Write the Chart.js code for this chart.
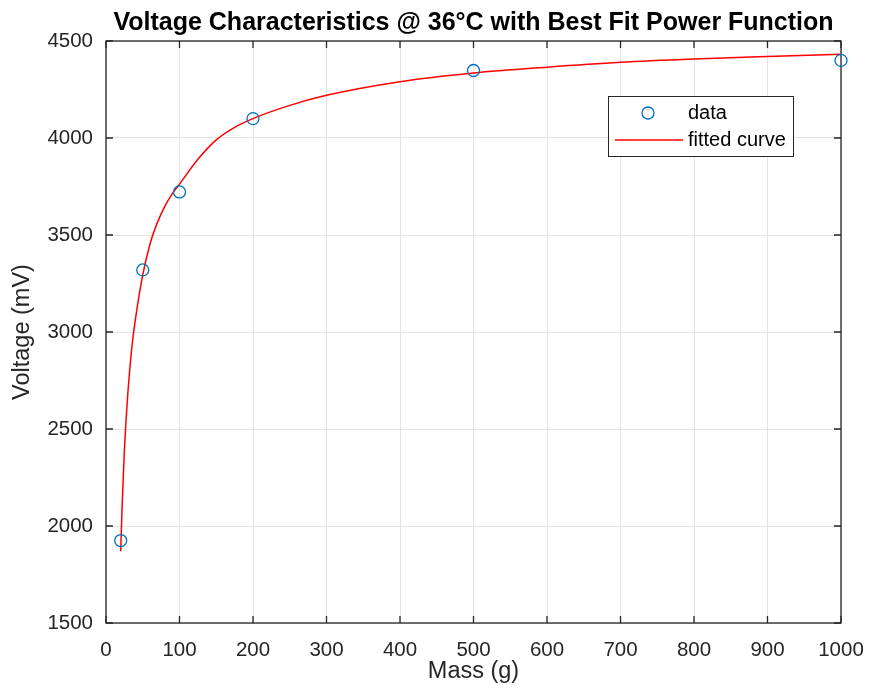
<!DOCTYPE html>
<html>
<head>
<meta charset="utf-8">
<title>Voltage Characteristics</title>
<script src="https://cdn.jsdelivr.net/npm/chart.js@4.4.1/dist/chart.umd.min.js"></script>
<style>
  html, body { margin: 0; padding: 0; background: #fff; }
  #wrap { width: 869px; height: 696px; }
</style>
</head>
<body>
<div id="wrap"><canvas id="voltageChart" width="869" height="696"></canvas></div>
<script>
// measured points
const massData = [20, 50, 100, 200, 500, 1000];
const voltageData = [1925, 3320, 3722, 4100, 4348, 4400];

// fitted power curve
const fitMass = [20, 22, 25, 30, 35, 40, 50, 60, 70, 80, 90, 100, 125, 150, 175, 200, 250, 300, 400, 500, 600, 700, 800, 900, 1000];
const fitVoltage = [1870, 2110, 2390, 2700, 2915, 3065, 3295, 3455, 3565, 3648, 3712, 3762, 3890, 3990, 4055, 4100, 4168, 4220, 4290, 4335, 4365, 4390, 4407, 4420, 4432];

const xTicks = [0, 100, 200, 300, 400, 500, 600, 700, 800, 900, 1000];
const yTicks = [1500, 2000, 2500, 3000, 3500, 4000, 4500];

const FONT = '"Liberation Sans", Arial, Helvetica, sans-serif';
const AXIS_COLOR = '#262626';

// MATLAB style box, inward ticks and legend inside the axes
const matlabAxes = {
  id: 'matlabAxes',
  beforeDatasetsDraw(chart) {
    const { ctx, chartArea: a, scales: { x, y } } = chart;
    ctx.save();
    ctx.strokeStyle = AXIS_COLOR;
    ctx.lineWidth = 1.3;
    ctx.beginPath();
    x.ticks.forEach(t => {
      const px = x.getPixelForValue(t.value);
      ctx.moveTo(px, a.bottom); ctx.lineTo(px, a.bottom - 7);
      ctx.moveTo(px, a.top); ctx.lineTo(px, a.top + 7);
    });
    y.ticks.forEach(t => {
      const py = y.getPixelForValue(t.value);
      ctx.moveTo(a.left, py); ctx.lineTo(a.left + 7, py);
      ctx.moveTo(a.right, py); ctx.lineTo(a.right - 7, py);
    });
    ctx.stroke();
    ctx.strokeRect(a.left, a.top, a.right - a.left, a.bottom - a.top);
    ctx.restore();
  },
  afterDraw(chart) {
    const { ctx, chartArea: a } = chart;
    const ds = chart.data.datasets;
    const bx = a.right - 233, by = a.top + 55, bw = 185, bh = 60;
    ctx.save();
    ctx.fillStyle = '#fff';
    ctx.fillRect(bx, by, bw, bh);
    ctx.strokeStyle = AXIS_COLOR;
    ctx.lineWidth = 1;
    ctx.strokeRect(bx + 0.5, by + 0.5, bw, bh);

    ctx.strokeStyle = ds[0].borderColor;
    ctx.lineWidth = ds[0].borderWidth;
    ctx.beginPath();
    ctx.arc(bx + 40, by + 17, ds[0].pointRadius, 0, Math.PI * 2);
    ctx.stroke();

    ctx.strokeStyle = ds[1].borderColor;
    ctx.lineWidth = ds[1].borderWidth;
    ctx.beginPath();
    ctx.moveTo(bx + 7, by + 44);
    ctx.lineTo(bx + 75, by + 44);
    ctx.stroke();

    ctx.fillStyle = '#000';
    ctx.font = '20px ' + FONT;
    ctx.textBaseline = 'middle';
    ctx.fillText(ds[0].label, bx + 80, by + 17);
    ctx.fillText(ds[1].label, bx + 80, by + 44);
    ctx.restore();
  }
};

new Chart(document.getElementById('voltageChart'), {
  type: 'scatter',
  data: {
    datasets: [
      {
        label: 'data',
        data: massData.map((m, i) => ({ x: m, y: voltageData[i] })),
        showLine: false,
        pointRadius: 6,
        pointHoverRadius: 6,
        borderColor: '#0072BD',
        backgroundColor: 'rgba(0,0,0,0)',
        borderWidth: 1.3,
        clip: false,
        order: 0
      },
      {
        label: 'fitted curve',
        data: fitMass.map((m, i) => ({ x: m, y: fitVoltage[i] })),
        showLine: true,
        pointRadius: 0,
        borderColor: '#ff0000',
        borderWidth: 1.5,
        cubicInterpolationMode: 'monotone',
        order: 1
      }
    ]
  },
  options: {
    responsive: false,
    animation: false,
    layout: { padding: { left: 0, right: 28, top: 0, bottom: 0 } },
    plugins: {
      legend: { display: false },
      tooltip: { enabled: false },
      title: {
        display: true,
        fullSize: false,
        text: 'Voltage Characteristics @ 36°C with Best Fit Power Function',
        color: '#000',
        font: { family: FONT, size: 25, weight: 'bold' },
        padding: { top: 8, bottom: 3 }
      }
    },
    scales: {
      x: {
        type: 'linear',
        min: 0,
        max: 1000,
        afterBuildTicks: s => { s.ticks = xTicks.map(v => ({ value: v })); },
        afterFit: s => { s.height = 73; s.paddingLeft = 0; s.paddingRight = 0; },
        grid: { color: '#e3e3e3', drawTicks: false },
        border: { display: false },
        ticks: {
          color: AXIS_COLOR, padding: 15.5, maxRotation: 0,
          font: { family: FONT, size: 20.5 },
          callback: v => String(v)
        },
        title: {
          display: true,
          text: 'Mass (g)',
          color: AXIS_COLOR,
          font: { family: FONT, size: 23.5 },
          padding: { top: 0, bottom: 10 }
        }
      },
      y: {
        type: 'linear',
        min: 1500,
        max: 4500,
        afterBuildTicks: s => { s.ticks = yTicks.map(v => ({ value: v })); },
        afterFit: s => { s.width = 106; s.paddingTop = 0; s.paddingBottom = 0; },
        grid: { color: '#e3e3e3', drawTicks: false },
        border: { display: false },
        ticks: {
          color: AXIS_COLOR, padding: 13,
          font: { family: FONT, size: 20.5 },
          callback: v => String(v)
        },
        title: {
          display: true,
          text: 'Voltage (mV)',
          color: AXIS_COLOR,
          font: { family: FONT, size: 23.5 },
          padding: { top: 8, bottom: 0 }
        }
      }
    }
  },
  plugins: [matlabAxes]
});
</script>
</body>
</html>
